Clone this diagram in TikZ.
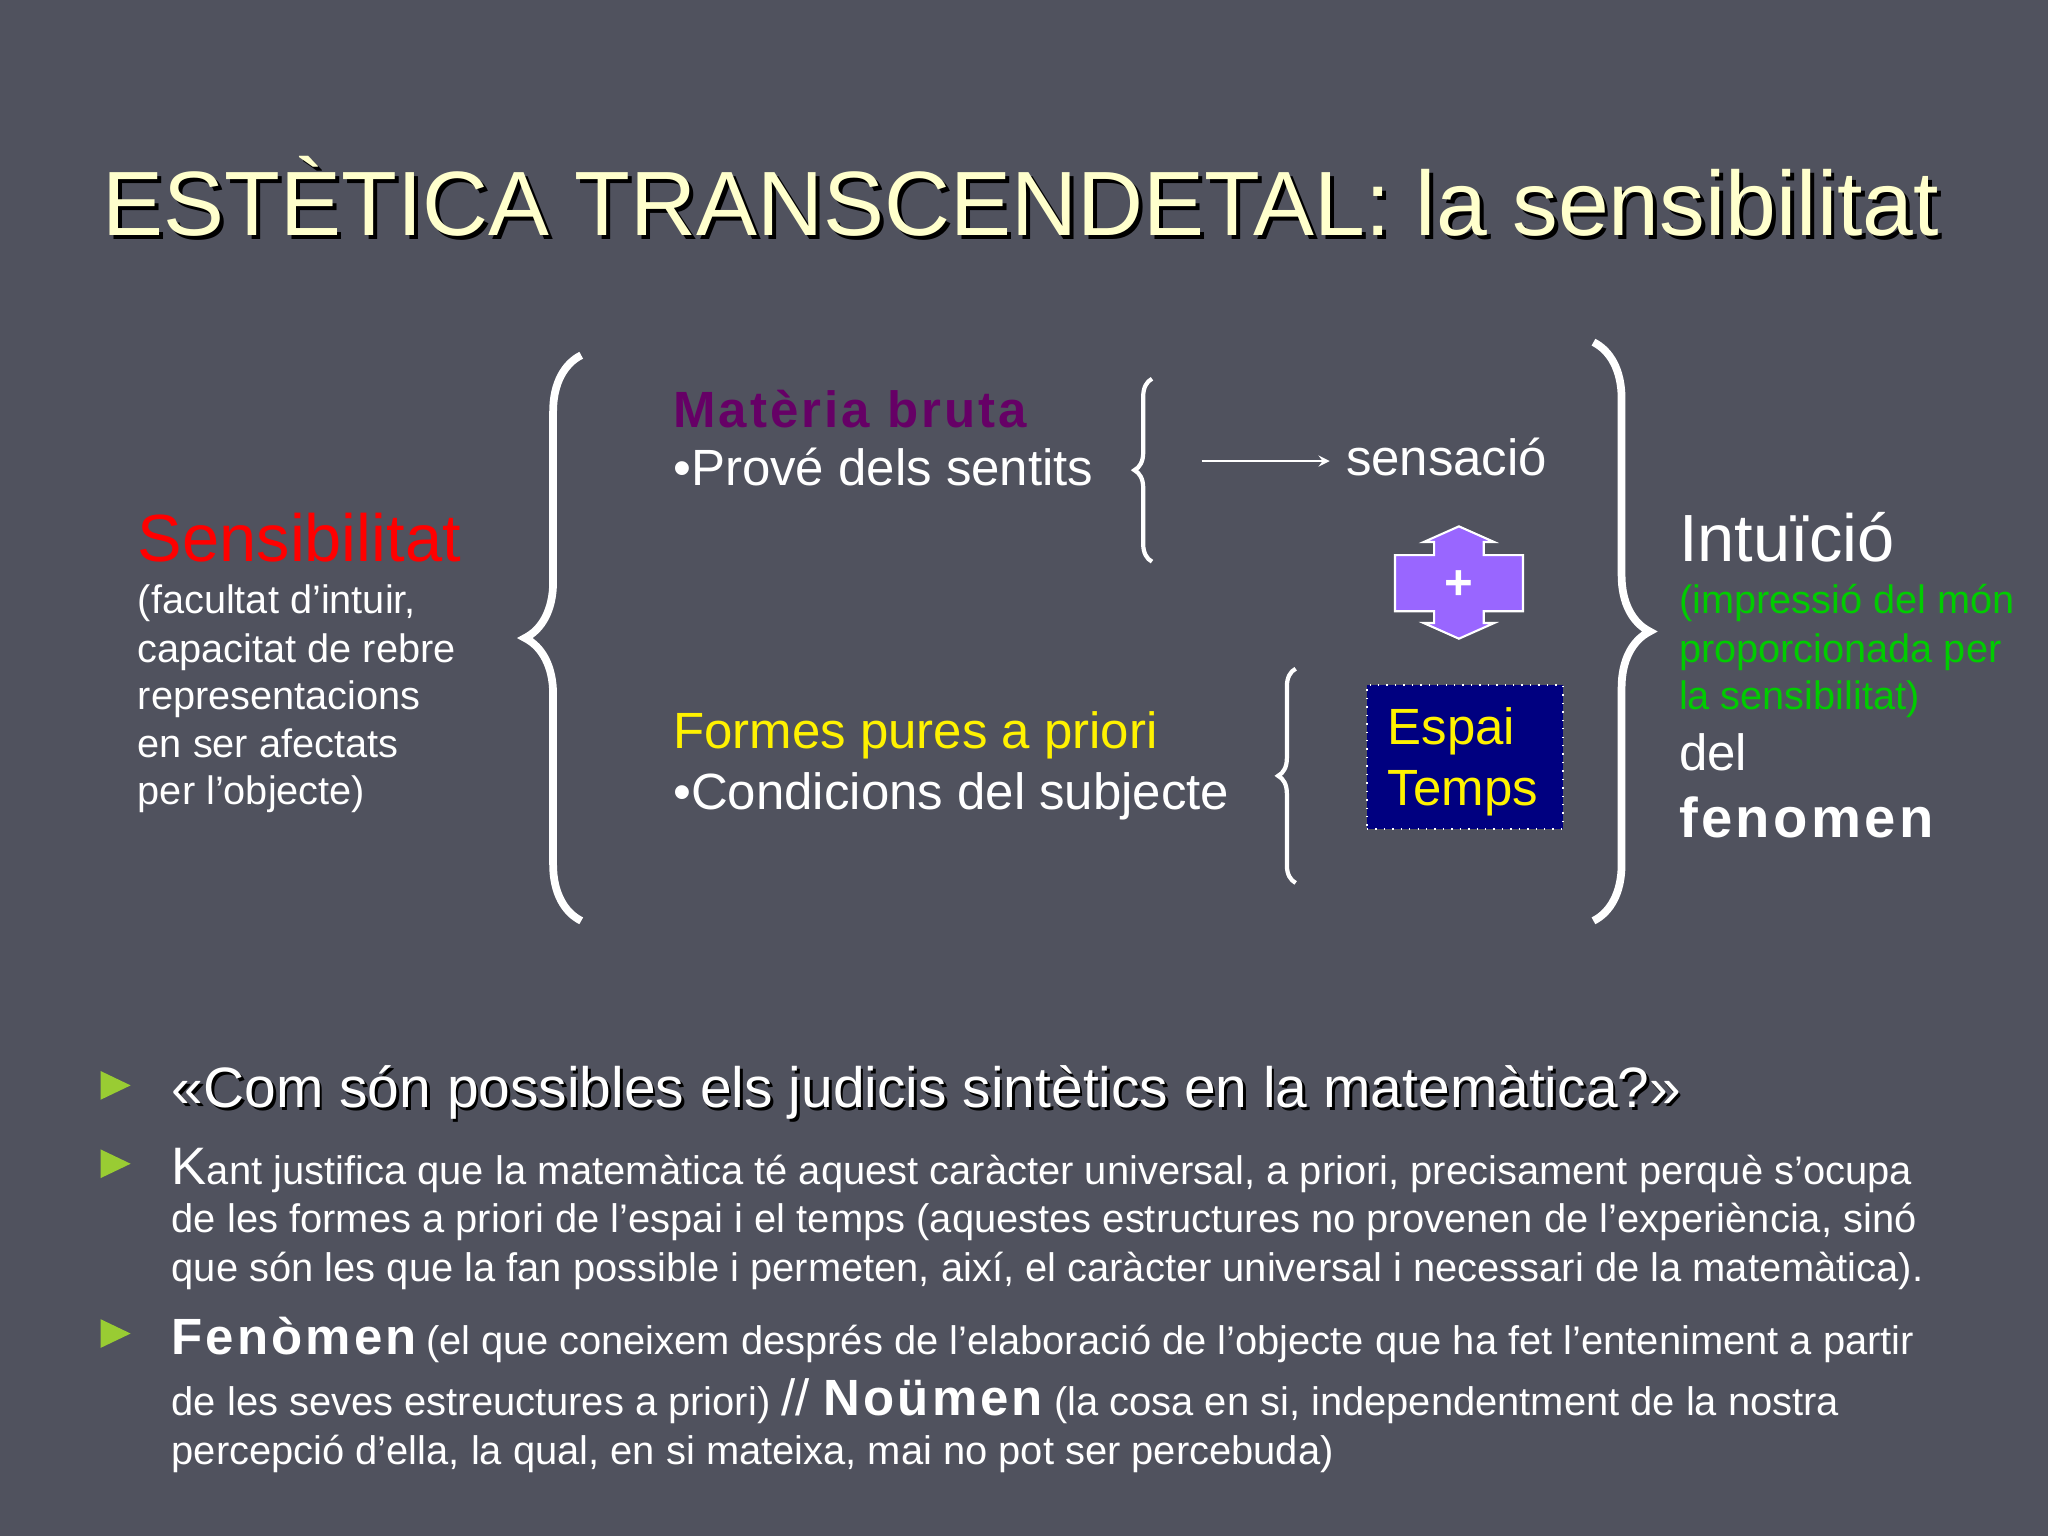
\documentclass[tikz,border=0pt]{standalone}
\usepackage{fontspec}
\setmainfont{Liberation Sans}[Ligatures=ResetAll]
\usetikzlibrary{decorations.pathreplacing,shadows}
\definecolor{bg}{HTML}{50525E}
\definecolor{ttl}{HTML}{FFFFCC}
\definecolor{mat}{HTML}{660066}
\definecolor{grn}{HTML}{00CC00}
\definecolor{pur}{HTML}{9966FF}
\definecolor{tri}{HTML}{99CC33}
\newcommand\ap{'}
\tikzset{
 txt/.style={anchor=base west,inner sep=0pt,text=white},
 brc/.style={draw=white,line width=2.2pt,decorate,decoration={brace,amplitude=#1}},
 bul/.style={fill=tri,draw=none},
}
\begin{document}
\begin{tikzpicture}[x=0.01306cm,y=-0.01306cm]
\fill[bg] (0,0) rectangle (1568,1176);
\useasboundingbox (0,0) rectangle (1568,1176);
% title
\node[txt,text=black] at (81,183) {\fontsize{26}{31}\selectfont ESTÈTICA TRANSCENDETAL: la sensibilitat};
\node[txt,text=ttl] (title) at (78,180) {\fontsize{26}{31}\selectfont ESTÈTICA TRANSCENDETAL: la sensibilitat};
% left
\node[txt,text=red] (sens) at (105,430) {\fontsize{19}{22}\selectfont Sensibilitat};
\foreach \t/\y in {{(facultat d’intuir,}/470, {capacitat de rebre}/507, {representacions}/543, {en ser afectats}/580, {per l’objecte)}/616}
 \node[txt] at (105,\y) {\fontsize{11.3}{13}\selectfont \t};
% braces
\coordinate (lb1) at (445,705); \coordinate (lb2) at (445,272);
\draw[brc=16pt] (lb1) -- (lb2);
\coordinate (rb1) at (1220,262); \coordinate (rb2) at (1220,705);
\draw[brc=16pt] (rb1) -- (rb2);
\coordinate (s1a) at (882,430); \coordinate (s1b) at (882,290);
\draw[draw=white,line width=1.2pt,decorate,decoration={brace,amplitude=5pt}] (s1a) -- (s1b);
\coordinate (s2a) at (992,676); \coordinate (s2b) at (992,512);
\draw[draw=white,line width=1.2pt,decorate,decoration={brace,amplitude=5pt}] (s2a) -- (s2b);
% middle
\node[txt,text=mat] at (515,327) {\fontsize{14.5}{17}\selectfont\bfseries\addfontfeature{LetterSpace=6} Matèria bruta};
\node[txt] at (515,372) {\fontsize{14.5}{17}\selectfont •Prové dels sentits};
\node[txt,text=yellow] at (515,573) {\fontsize{14.5}{17}\selectfont Formes pures a priori};
\node[txt] at (515,620) {\fontsize{14.5}{17}\selectfont •Condicions del subjecte};
\coordinate (arA) at (920,353);
\coordinate (arB) at (1018,353);
\node[txt] (sensacio) at (1030,364) {\fontsize{14.5}{17}\selectfont sensació};
\draw[white,->,>=stealth] (arA) -- (arB);
% plus shape
\draw[fill=pur,draw=white,line width=0.6pt] (1068,425) -- (1098,425) -- (1098,415) -- (1090,415) -- (1117,403) -- (1144,415) -- (1136,415) -- (1136,425) -- (1166,425) -- (1166,468) -- (1136,468) -- (1136,477) -- (1144,477) -- (1117,489) -- (1090,477) -- (1098,477) -- (1098,468) -- (1068,468) -- cycle;
\node[text=white,font=\fontsize{14}{16}\selectfont\bfseries] (plus) at (1117,448) {+};
% box
\node[draw=white,dotted,fill=blue!50!black,minimum width=1.959cm,minimum height=1.437cm,anchor=north west,inner sep=0pt] (box) at (1046,524) {};
\node[txt,text=yellow] at (1062,570) {\fontsize{14.5}{17}\selectfont Espai};
\node[txt,text=yellow] at (1062,617) {\fontsize{14.5}{17}\selectfont Temps};
% right
\node[txt] (intu) at (1285,430) {\fontsize{19}{22}\selectfont Intuïció};
\foreach \t/\y in {{(impressió del món}/470, {proporcionada per}/507, {la sensibilitat)}/543}
 \node[txt,text=grn] at (1285,\y) {\fontsize{11.3}{13}\selectfont \t};
\node[txt] at (1285,590) {\fontsize{14.5}{17}\selectfont del};
\node[txt] at (1285,641) {\fontsize{16}{19}\selectfont\bfseries\addfontfeature{LetterSpace=6} fenomen};
% bullets
\foreach \y in {831,891,1021}
 \fill[bul] (77,\y-11) -- (100,\y) -- (77,\y+11) -- cycle;
\node[txt,text=black] at (133,850) {\fontsize{16.2}{19}\selectfont «Com són possibles els judicis sintètics en la matemàtica?»};
\node[txt] at (131,848) {\fontsize{16.2}{19}\selectfont «Com són possibles els judicis sintètics en la matemàtica?»};
\node[txt] at (131,907) {\fontsize{11.35}{13}\selectfont {\fontsize{15}{18}\selectfont K}ant justifica que la matemàtica té aquest caràcter universal, a priori, precisament perquè s\ap ocupa};
\node[txt] at (131,944) {\fontsize{11.35}{13}\selectfont de les formes a priori de l\ap espai i el temps (aquestes estructures no provenen de l\ap experiència, sinó};
\node[txt] at (131,981) {\fontsize{11.35}{13}\selectfont que són les que la fan possible i permeten, així, el caràcter universal i necessari de la matemàtica).};
\node[txt] at (131,1037) {{\fontsize{14.5}{17}\selectfont\bfseries\addfontfeature{LetterSpace=6}Fenòmen} \fontsize{11.35}{13}\selectfont (el que coneixem després de l\ap elaboració de l\ap objecte que ha fet l\ap enteniment a partir};
\node[txt] at (131,1084) {\fontsize{11.35}{13}\selectfont de les seves estreuctures a priori) {\fontsize{14.5}{17}\selectfont // \bfseries\addfontfeature{LetterSpace=6}Noümen} (la cosa en si, independentment de la nostra};
\node[txt] at (131,1121) {\fontsize{11.35}{13}\selectfont percepció d\ap ella, la qual, en si mateixa, mai no pot ser percebuda)};
\end{tikzpicture}
\end{document}
